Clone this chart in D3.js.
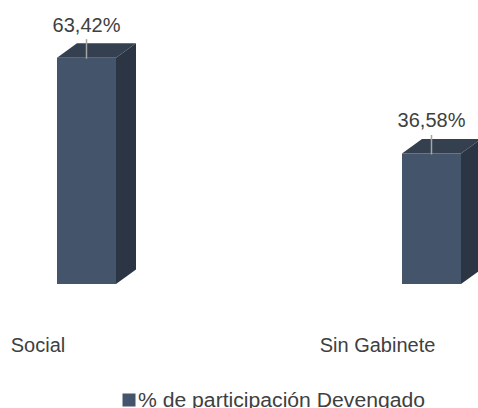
<!DOCTYPE html>
<html><head><meta charset="utf-8">
<script src="https://cdn.jsdelivr.net/npm/d3@7"></script>
<style>body{margin:0;background:#fff}svg{display:block}text{font-family:"Liberation Sans",Arial,sans-serif;fill:#404040}</style>
</head><body>
<svg id="c" width="478" height="408"></svg>
<script>
const categories = ["Social", "Sin Gabinete"];
const values = [63.42, 36.58];
const valueLabels = ["63,42%", "36,58%"];
const seriesName = "% de participación Devengado";

const svg = d3.select("#c");
const x = d3.scalePoint().domain(categories).range([86.5, 431.5]);
const xLab = d3.scalePoint().domain(categories).range([38, 377.5]);
const y = d3.scaleLinear().domain([0, 70]).range([284, 34.2]);
const bw = 59, dx = 20, dy = 14.5;
const cFront = "#44546a", cTop = "#343f4f", cSide = "#2b3544";
const fs = 20;

const g = svg.append("g");
categories.forEach((c, i) => {
  const cx = x(c), x0 = cx - bw / 2, x1 = cx + bw / 2;
  const yt = y(values[i]), yb = y(0);
  g.append("path").attr("d", `M${x1},${yt}L${x1+dx},${yt-dy}L${x1+dx},${yb-dy}L${x1},${yb}Z`).attr("fill", cSide);
  g.append("path").attr("d", `M${x0},${yt}L${x0+dx},${yt-dy}L${x1+dx},${yt-dy}L${x1},${yt}Z`).attr("fill", cTop);
  g.append("rect").attr("x", x0).attr("y", yt).attr("width", bw).attr("height", yb - yt).attr("fill", cFront);
  g.append("line").attr("x1", cx).attr("x2", cx).attr("y1", yt + 1).attr("y2", yt - 18.5)
    .attr("stroke", "#a6a6a6").attr("stroke-width", 1.5);
  g.append("text").attr("x", cx).attr("y", yt - 26).attr("text-anchor", "middle")
    .attr("font-size", fs).text(valueLabels[i]);
  g.append("text").attr("x", xLab(c)).attr("y", 352).attr("text-anchor", "middle")
    .attr("font-size", fs).text(c);
});

svg.append("rect").attr("x", 122.5).attr("y", 393.5).attr("width", 13).attr("height", 13).attr("fill", cFront);
svg.append("text").attr("x", 138).attr("y", 406.5).attr("font-size", fs)
  .attr("textLength", 287).attr("lengthAdjust", "spacingAndGlyphs").text(seriesName);
</script>
</body></html>
